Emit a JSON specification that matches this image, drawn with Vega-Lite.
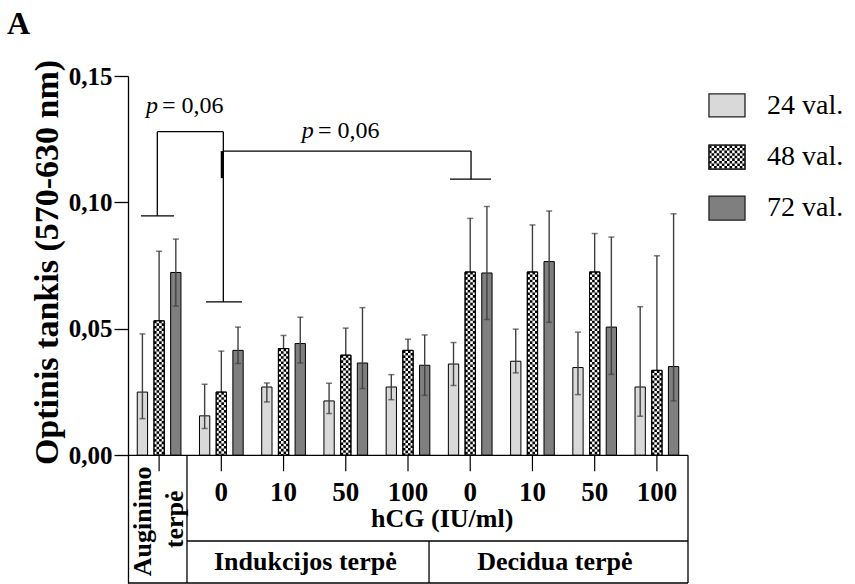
{
  "$schema": "https://vega.github.io/schema/vega-lite/v6.json",
  "width": 560,
  "height": 507,
  "autosize": "none",
  "padding": {"left": 128, "top": 76, "right": 167, "bottom": 1},
  "background": "white",
  "config": {"view": {"stroke": null}, "font": "Liberation Serif"},
  "resolve": {"scale": {"x": "independent"}},
  "datasets": {
    "bars": [
      {"grp": "Auginimo terpė", "series": "24 val.", "mean": 0.025, "lo": 0.0145, "hi": 0.048},
      {"grp": "Auginimo terpė", "series": "48 val.", "mean": 0.0532, "lo": 0.0257, "hi": 0.0807},
      {"grp": "Auginimo terpė", "series": "72 val.", "mean": 0.0723, "lo": 0.059, "hi": 0.0855},
      {"grp": "Indukcijos 0", "series": "24 val.", "mean": 0.0156, "lo": 0.0106, "hi": 0.0281},
      {"grp": "Indukcijos 0", "series": "48 val.", "mean": 0.025, "lo": 0.009, "hi": 0.0412},
      {"grp": "Indukcijos 0", "series": "72 val.", "mean": 0.0415, "lo": 0.0363, "hi": 0.0507},
      {"grp": "Indukcijos 10", "series": "24 val.", "mean": 0.027, "lo": 0.0211, "hi": 0.0286},
      {"grp": "Indukcijos 10", "series": "48 val.", "mean": 0.0422, "lo": 0.037, "hi": 0.0474},
      {"grp": "Indukcijos 10", "series": "72 val.", "mean": 0.0442, "lo": 0.0365, "hi": 0.0546},
      {"grp": "Indukcijos 50", "series": "24 val.", "mean": 0.0215, "lo": 0.0165, "hi": 0.0285},
      {"grp": "Indukcijos 50", "series": "48 val.", "mean": 0.0396, "lo": 0.029, "hi": 0.0503},
      {"grp": "Indukcijos 50", "series": "72 val.", "mean": 0.0365, "lo": 0.0264, "hi": 0.0584},
      {"grp": "Indukcijos 100", "series": "24 val.", "mean": 0.027, "lo": 0.022, "hi": 0.0319},
      {"grp": "Indukcijos 100", "series": "48 val.", "mean": 0.0415, "lo": 0.037, "hi": 0.0459},
      {"grp": "Indukcijos 100", "series": "72 val.", "mean": 0.0356, "lo": 0.0237, "hi": 0.0476},
      {"grp": "Decidua 0", "series": "24 val.", "mean": 0.0361, "lo": 0.0276, "hi": 0.0446},
      {"grp": "Decidua 0", "series": "48 val.", "mean": 0.0725, "lo": 0.0513, "hi": 0.0937},
      {"grp": "Decidua 0", "series": "72 val.", "mean": 0.0721, "lo": 0.0537, "hi": 0.0984},
      {"grp": "Decidua 10", "series": "24 val.", "mean": 0.0372, "lo": 0.0326, "hi": 0.0499},
      {"grp": "Decidua 10", "series": "48 val.", "mean": 0.0725, "lo": 0.0539, "hi": 0.0911},
      {"grp": "Decidua 10", "series": "72 val.", "mean": 0.0766, "lo": 0.0526, "hi": 0.0966},
      {"grp": "Decidua 50", "series": "24 val.", "mean": 0.0347, "lo": 0.024, "hi": 0.0487},
      {"grp": "Decidua 50", "series": "48 val.", "mean": 0.0725, "lo": 0.0573, "hi": 0.0877},
      {"grp": "Decidua 50", "series": "72 val.", "mean": 0.0507, "lo": 0.032, "hi": 0.0863},
      {"grp": "Decidua 100", "series": "24 val.", "mean": 0.027, "lo": 0.0154, "hi": 0.0587},
      {"grp": "Decidua 100", "series": "48 val.", "mean": 0.0336, "lo": 0.0, "hi": 0.0789},
      {"grp": "Decidua 100", "series": "72 val.", "mean": 0.0351, "lo": 0.0215, "hi": 0.0955}
    ],
    "lines": [
      {"x": -0.5, "x2": 8.5, "y": 0, "y2": 0},
      {"x": 0.448, "x2": 0.448, "y": 0, "y2": -0.0505},
      {"x": 0.448, "x2": 8.5, "y": -0.0339, "y2": -0.0339},
      {"x": 4.338, "x2": 4.338, "y": -0.0339, "y2": -0.0505},
      {"x": 8.5, "x2": 8.5, "y": 0, "y2": -0.0505},
      {"x": -0.5, "x2": 8.5, "y": -0.0505, "y2": -0.0505},
      {"x": -0.029, "x2": -0.029, "y": 0.128, "y2": 0.0947},
      {"x": -0.029, "x2": 1.032, "y": 0.128, "y2": 0.128},
      {"x": 1.032, "x2": 1.032, "y": 0.128, "y2": 0.0607},
      {"x": -0.291, "x2": 0.239, "y": 0.0947, "y2": 0.0947},
      {"x": 0.754, "x2": 1.332, "y": 0.0607, "y2": 0.0607},
      {"x": 1.032, "x2": 5.013, "y": 0.1203, "y2": 0.1203},
      {"x": 5.013, "x2": 5.013, "y": 0.1203, "y2": 0.1092},
      {"x": 4.675, "x2": 5.334, "y": 0.1092, "y2": 0.1092}
    ],
    "thick": [
      {"x": 1.011, "x2": 1.011, "y": 0.1203, "y2": 0.1096}
    ],
    "labels": [
      {"kind": "dose", "x": 1, "y": -0.0149, "text": "0"},
      {"kind": "dose", "x": 2, "y": -0.0149, "text": "10"},
      {"kind": "dose", "x": 3, "y": -0.0149, "text": "50"},
      {"kind": "dose", "x": 4, "y": -0.0149, "text": "100"},
      {"kind": "dose", "x": 5, "y": -0.0149, "text": "0"},
      {"kind": "dose", "x": 6, "y": -0.0149, "text": "10"},
      {"kind": "dose", "x": 7, "y": -0.0149, "text": "50"},
      {"kind": "dose", "x": 8, "y": -0.0149, "text": "100"},
      {"kind": "hcg", "x": 4.55, "y": -0.0253, "text": "hCG (IU/ml)"},
      {"kind": "medium", "x": 2.35, "y": -0.0422, "text": "Indukcijos terpė"},
      {"kind": "medium", "x": 6.36, "y": -0.0422, "text": "Decidua terpė"},
      {"kind": "aug", "x": -0.259, "y": -0.0261, "text": "Auginimo"},
      {"kind": "aug", "x": 0.255, "y": -0.0253, "text": "terpė"},
      {"kind": "p", "x": -0.211, "y": 0.1354, "text": "p"},
      {"kind": "p", "x": 2.292, "y": 0.1253, "text": "p"},
      {"kind": "peq", "x": 0.046, "y": 0.1354, "text": "= 0,06"},
      {"kind": "peq", "x": 2.554, "y": 0.1253, "text": "= 0,06"},
      {"kind": "legend", "x": 9.77, "y": 0.1383, "text": "24 val."},
      {"kind": "legend", "x": 9.77, "y": 0.1179, "text": "48 val."},
      {"kind": "legend", "x": 9.77, "y": 0.0978, "text": "72 val."},
      {"kind": "panel", "x": -2.445, "y": 0.1666, "text": "A"}
    ],
    "legend": [
      {"series": "24 val.", "x": 8.837, "x2": 9.416, "y": 0.1429, "y2": 0.1338},
      {"series": "48 val.", "x": 8.837, "x2": 9.416, "y": 0.1227, "y2": 0.1132},
      {"series": "72 val.", "x": 8.837, "x2": 9.416, "y": 0.1025, "y2": 0.093}
    ]
  },
  "layer": [
    {
      "data": {"name": "bars"},
      "transform": [{"filter": "datum.series === '48 val.'"}],
      "mark": {"type": "rule", "strokeWidth": 1.4, "color": "#404040"},
      "encoding": {
        "x": {"field": "grp", "type": "nominal", "sort": null, "scale": {"domain": ["Auginimo terpė", "Indukcijos 0", "Indukcijos 10", "Indukcijos 50", "Indukcijos 100", "Decidua 0", "Decidua 10", "Decidua 50", "Decidua 100"], "paddingInner": 0, "paddingOuter": 0}, "axis": null},
        "y": {
          "field": "lo", "type": "quantitative",
          "scale": {"domain": [-0.0505, 0.15], "nice": false, "zero": false},
          "axis": {
            "values": [0, 0.05, 0.1, 0.15],
            "labelExpr": "replace(format(datum.value, '.2f'), '.', ',')",
            "grid": false,
            "tickSize": 14,
            "tickWidth": 1.3,
            "tickColor": "black",
            "domainColor": "black",
            "domainWidth": 1.3,
            "labelFont": "Liberation Serif",
            "labelFontWeight": "bold",
            "labelFontSize": 25,
            "labelColor": "black",
            "labelPadding": 2,
            "title": "Optinis tankis (570-630 nm)",
            "titleFont": "Liberation Serif",
            "titleFontWeight": "bold",
            "titleFontSize": 34,
            "titleColor": "black",
            "titleY": 186,
            "titlePadding": 4
          }
        },
        "y2": {"field": "hi"}
      }
    },
    {
      "data": {"name": "bars"},
      "mark": {"type": "bar", "stroke": "black", "strokeWidth": 1},
      "encoding": {
        "x": {"field": "grp", "type": "nominal", "sort": null, "scale": {"domain": ["Auginimo terpė", "Indukcijos 0", "Indukcijos 10", "Indukcijos 50", "Indukcijos 100", "Decidua 0", "Decidua 10", "Decidua 50", "Decidua 100"], "paddingInner": 0, "paddingOuter": 0}, "axis": null},
        "xOffset": {"field": "series", "type": "nominal", "scale": {"domain": ["24 val.", "48 val.", "72 val."], "paddingInner": 0.383, "paddingOuter": 0.5545}},
        "y": {"field": "mean", "type": "quantitative", "stack": null},
        "y2": {"datum": 0},
        "fill": {"field": "series", "type": "nominal", "scale": {"domain": ["24 val.", "48 val.", "72 val."], "range": ["#d9d9d9", "#ffffff", "#7f7f7f"]}, "legend": null}
      }
    },
    {
      "data": {"name": "bars"},
      "transform": [{"filter": "datum.series !== '48 val.'"}],
      "mark": {"type": "rule", "strokeWidth": 1.4, "color": "#404040"},
      "encoding": {
        "x": {"field": "grp", "type": "nominal", "sort": null, "scale": {"domain": ["Auginimo terpė", "Indukcijos 0", "Indukcijos 10", "Indukcijos 50", "Indukcijos 100", "Decidua 0", "Decidua 10", "Decidua 50", "Decidua 100"], "paddingInner": 0, "paddingOuter": 0}, "axis": null},
        "xOffset": {"field": "series", "type": "nominal", "scale": {"domain": ["24 val.", "48 val.", "72 val."], "paddingInner": 0.383, "paddingOuter": 0.5545}},
        "y": {"field": "lo", "type": "quantitative"},
        "y2": {"field": "hi"}
      }
    },
    {
      "data": {"name": "bars"},
      "mark": {"type": "tick", "orient": "horizontal", "size": 6, "thickness": 1.5, "color": "#404040"},
      "encoding": {
        "x": {"field": "grp", "type": "nominal", "sort": null, "scale": {"domain": ["Auginimo terpė", "Indukcijos 0", "Indukcijos 10", "Indukcijos 50", "Indukcijos 100", "Decidua 0", "Decidua 10", "Decidua 50", "Decidua 100"], "paddingInner": 0, "paddingOuter": 0}, "axis": null},
        "xOffset": {"field": "series", "type": "nominal", "scale": {"domain": ["24 val.", "48 val.", "72 val."], "paddingInner": 0.383, "paddingOuter": 0.5545}},
        "y": {"field": "hi", "type": "quantitative"}
      }
    },
    {
      "data": {"name": "bars"},
      "transform": [{"filter": "datum.series !== '48 val.'"}],
      "mark": {"type": "tick", "orient": "horizontal", "size": 6, "thickness": 1.5, "color": "#404040"},
      "encoding": {
        "x": {"field": "grp", "type": "nominal", "sort": null, "scale": {"domain": ["Auginimo terpė", "Indukcijos 0", "Indukcijos 10", "Indukcijos 50", "Indukcijos 100", "Decidua 0", "Decidua 10", "Decidua 50", "Decidua 100"], "paddingInner": 0, "paddingOuter": 0}, "axis": null},
        "xOffset": {"field": "series", "type": "nominal", "scale": {"domain": ["24 val.", "48 val.", "72 val."], "paddingInner": 0.383, "paddingOuter": 0.5545}},
        "y": {"field": "lo", "type": "quantitative"}
      }
    },
    {
      "data": {"name": "bars"},
      "transform": [{"filter": "datum.series === '48 val.'"}],
      "mark": {"type": "rule", "color": "black", "strokeWidth": 2.57, "strokeDash": [2.57, 2.57], "strokeDashOffset": 0, "strokeCap": "butt", "xOffset": -3.85},
      "encoding": {
        "x": {"field": "grp", "type": "nominal", "sort": null, "scale": {"domain": ["Auginimo terpė", "Indukcijos 0", "Indukcijos 10", "Indukcijos 50", "Indukcijos 100", "Decidua 0", "Decidua 10", "Decidua 50", "Decidua 100"], "paddingInner": 0, "paddingOuter": 0}, "axis": null},
        "y": {"field": "mean", "type": "quantitative"},
        "y2": {"datum": 0}
      }
    },
    {
      "data": {"name": "bars"},
      "transform": [{"filter": "datum.series === '48 val.'"}],
      "mark": {"type": "rule", "color": "black", "strokeWidth": 2.57, "strokeDash": [2.57, 2.57], "strokeDashOffset": 2.57, "strokeCap": "butt", "xOffset": -1.28},
      "encoding": {
        "x": {"field": "grp", "type": "nominal", "sort": null, "scale": {"domain": ["Auginimo terpė", "Indukcijos 0", "Indukcijos 10", "Indukcijos 50", "Indukcijos 100", "Decidua 0", "Decidua 10", "Decidua 50", "Decidua 100"], "paddingInner": 0, "paddingOuter": 0}, "axis": null},
        "y": {"field": "mean", "type": "quantitative"},
        "y2": {"datum": 0}
      }
    },
    {
      "data": {"name": "bars"},
      "transform": [{"filter": "datum.series === '48 val.'"}],
      "mark": {"type": "rule", "color": "black", "strokeWidth": 2.57, "strokeDash": [2.57, 2.57], "strokeDashOffset": 0, "strokeCap": "butt", "xOffset": 1.28},
      "encoding": {
        "x": {"field": "grp", "type": "nominal", "sort": null, "scale": {"domain": ["Auginimo terpė", "Indukcijos 0", "Indukcijos 10", "Indukcijos 50", "Indukcijos 100", "Decidua 0", "Decidua 10", "Decidua 50", "Decidua 100"], "paddingInner": 0, "paddingOuter": 0}, "axis": null},
        "y": {"field": "mean", "type": "quantitative"},
        "y2": {"datum": 0}
      }
    },
    {
      "data": {"name": "bars"},
      "transform": [{"filter": "datum.series === '48 val.'"}],
      "mark": {"type": "rule", "color": "black", "strokeWidth": 2.57, "strokeDash": [2.57, 2.57], "strokeDashOffset": 2.57, "strokeCap": "butt", "xOffset": 3.85},
      "encoding": {
        "x": {"field": "grp", "type": "nominal", "sort": null, "scale": {"domain": ["Auginimo terpė", "Indukcijos 0", "Indukcijos 10", "Indukcijos 50", "Indukcijos 100", "Decidua 0", "Decidua 10", "Decidua 50", "Decidua 100"], "paddingInner": 0, "paddingOuter": 0}, "axis": null},
        "y": {"field": "mean", "type": "quantitative"},
        "y2": {"datum": 0}
      }
    },
    {
      "data": {"name": "bars"},
      "transform": [{"filter": "datum.series === '48 val.'"}],
      "mark": {"type": "bar", "fillOpacity": 0, "stroke": "black", "strokeWidth": 1},
      "encoding": {
        "x": {"field": "grp", "type": "nominal", "sort": null, "scale": {"domain": ["Auginimo terpė", "Indukcijos 0", "Indukcijos 10", "Indukcijos 50", "Indukcijos 100", "Decidua 0", "Decidua 10", "Decidua 50", "Decidua 100"], "paddingInner": 0, "paddingOuter": 0}, "axis": null},
        "xOffset": {"field": "series", "type": "nominal", "scale": {"domain": ["24 val.", "48 val.", "72 val."], "paddingInner": 0.383, "paddingOuter": 0.5545}},
        "y": {"field": "mean", "type": "quantitative", "stack": null},
        "y2": {"datum": 0}
      }
    },
    {
      "data": {"name": "bars"},
      "transform": [{"filter": "datum.series === '48 val.'"}],
      "mark": {"type": "rule", "color": "black", "strokeWidth": 1.2},
      "encoding": {
        "x": {"field": "grp", "type": "nominal", "sort": null, "scale": {"domain": ["Auginimo terpė", "Indukcijos 0", "Indukcijos 10", "Indukcijos 50", "Indukcijos 100", "Decidua 0", "Decidua 10", "Decidua 50", "Decidua 100"], "paddingInner": 0, "paddingOuter": 0}, "axis": null},
        "y": {"datum": 0, "type": "quantitative"},
        "y2": {"datum": -0.0063}
      }
    },
    {
      "data": {"name": "lines"},
      "mark": {"type": "rule", "color": "black", "strokeWidth": 1.3},
      "encoding": {
        "x": {"field": "x", "type": "quantitative", "scale": {"domain": [-0.5, 8.5], "nice": false, "zero": false}, "axis": null},
        "x2": {"field": "x2"},
        "y": {"field": "y", "type": "quantitative"},
        "y2": {"field": "y2"}
      }
    },
    {
      "data": {"name": "thick"},
      "mark": {"type": "rule", "color": "black", "strokeWidth": 2.6},
      "encoding": {
        "x": {"field": "x", "type": "quantitative", "scale": {"domain": [-0.5, 8.5], "nice": false, "zero": false}, "axis": null},
        "x2": {"field": "x2"},
        "y": {"field": "y", "type": "quantitative"},
        "y2": {"field": "y2"}
      }
    },
    {
      "data": {"name": "legend"},
      "mark": {"type": "rect", "stroke": "#222", "strokeWidth": 1.3},
      "encoding": {
        "x": {"field": "x", "type": "quantitative", "scale": {"domain": [-0.5, 8.5], "nice": false, "zero": false}, "axis": null},
        "x2": {"field": "x2"},
        "y": {"field": "y", "type": "quantitative"},
        "y2": {"field": "y2"},
        "fill": {"field": "series", "type": "nominal", "legend": null}
      }
    },
    {
      "data": {"name": "legend"},
      "transform": [{"filter": "datum.series === '48 val.'"}, {"calculate": "(datum.x + datum.x2) / 2", "as": "cx"}, {"calculate": "(datum.y + datum.y2) / 2", "as": "cy"}],
      "mark": {
        "type": "point", "filled": true, "fill": "black", "opacity": 1, "strokeWidth": 0, "size": 26.42,
        "shape": "M-7 -4.5h1v1h-1zM-5 -4.5h1v1h-1zM-3 -4.5h1v1h-1zM-1 -4.5h1v1h-1zM1 -4.5h1v1h-1zM3 -4.5h1v1h-1zM5 -4.5h1v1h-1zM-6 -3.5h1v1h-1zM-4 -3.5h1v1h-1zM-2 -3.5h1v1h-1zM0 -3.5h1v1h-1zM2 -3.5h1v1h-1zM4 -3.5h1v1h-1zM6 -3.5h1v1h-1zM-7 -2.5h1v1h-1zM-5 -2.5h1v1h-1zM-3 -2.5h1v1h-1zM-1 -2.5h1v1h-1zM1 -2.5h1v1h-1zM3 -2.5h1v1h-1zM5 -2.5h1v1h-1zM-6 -1.5h1v1h-1zM-4 -1.5h1v1h-1zM-2 -1.5h1v1h-1zM0 -1.5h1v1h-1zM2 -1.5h1v1h-1zM4 -1.5h1v1h-1zM6 -1.5h1v1h-1zM-7 -0.5h1v1h-1zM-5 -0.5h1v1h-1zM-3 -0.5h1v1h-1zM-1 -0.5h1v1h-1zM1 -0.5h1v1h-1zM3 -0.5h1v1h-1zM5 -0.5h1v1h-1zM-6 0.5h1v1h-1zM-4 0.5h1v1h-1zM-2 0.5h1v1h-1zM0 0.5h1v1h-1zM2 0.5h1v1h-1zM4 0.5h1v1h-1zM6 0.5h1v1h-1zM-7 1.5h1v1h-1zM-5 1.5h1v1h-1zM-3 1.5h1v1h-1zM-1 1.5h1v1h-1zM1 1.5h1v1h-1zM3 1.5h1v1h-1zM5 1.5h1v1h-1zM-6 2.5h1v1h-1zM-4 2.5h1v1h-1zM-2 2.5h1v1h-1zM0 2.5h1v1h-1zM2 2.5h1v1h-1zM4 2.5h1v1h-1zM6 2.5h1v1h-1zM-7 3.5h1v1h-1zM-5 3.5h1v1h-1zM-3 3.5h1v1h-1zM-1 3.5h1v1h-1zM1 3.5h1v1h-1zM3 3.5h1v1h-1zM5 3.5h1v1h-1z"
      },
      "encoding": {
        "x": {"field": "cx", "type": "quantitative", "scale": {"domain": [-0.5, 8.5], "nice": false, "zero": false}, "axis": null},
        "y": {"field": "cy", "type": "quantitative"}
      }
    },
    {
      "data": {"name": "legend"},
      "transform": [{"filter": "datum.series === '48 val.'"}],
      "mark": {"type": "rect", "fillOpacity": 0, "stroke": "#222", "strokeWidth": 1.3},
      "encoding": {
        "x": {"field": "x", "type": "quantitative", "scale": {"domain": [-0.5, 8.5], "nice": false, "zero": false}, "axis": null},
        "x2": {"field": "x2"},
        "y": {"field": "y", "type": "quantitative"},
        "y2": {"field": "y2"}
      }
    },
    {
      "data": {"name": "labels"},
      "transform": [{"filter": "datum.kind === 'dose'"}],
      "mark": {"type": "text", "font": "Liberation Serif", "fontWeight": "bold", "fontSize": 27, "align": "center", "baseline": "middle", "color": "black"},
      "encoding": {
        "x": {"field": "x", "type": "quantitative", "scale": {"domain": [-0.5, 8.5], "nice": false, "zero": false}, "axis": null},
        "y": {"field": "y", "type": "quantitative"},
        "text": {"field": "text"}
      }
    },
    {
      "data": {"name": "labels"},
      "transform": [{"filter": "datum.kind === 'hcg' || datum.kind === 'medium'"}],
      "mark": {"type": "text", "font": "Liberation Serif", "fontWeight": "bold", "fontSize": 26, "align": "center", "baseline": "middle", "color": "black"},
      "encoding": {
        "x": {"field": "x", "type": "quantitative", "scale": {"domain": [-0.5, 8.5], "nice": false, "zero": false}, "axis": null},
        "y": {"field": "y", "type": "quantitative"},
        "text": {"field": "text"}
      }
    },
    {
      "data": {"name": "labels"},
      "transform": [{"filter": "datum.kind === 'aug'"}],
      "mark": {"type": "text", "font": "Liberation Serif", "fontWeight": "bold", "fontSize": 26, "align": "center", "baseline": "middle", "angle": 270, "color": "black"},
      "encoding": {
        "x": {"field": "x", "type": "quantitative", "scale": {"domain": [-0.5, 8.5], "nice": false, "zero": false}, "axis": null},
        "y": {"field": "y", "type": "quantitative"},
        "text": {"field": "text"}
      }
    },
    {
      "data": {"name": "labels"},
      "transform": [{"filter": "datum.kind === 'p'"}],
      "mark": {"type": "text", "font": "Liberation Serif", "fontStyle": "italic", "fontSize": 24, "align": "left", "baseline": "alphabetic", "color": "black"},
      "encoding": {
        "x": {"field": "x", "type": "quantitative", "scale": {"domain": [-0.5, 8.5], "nice": false, "zero": false}, "axis": null},
        "y": {"field": "y", "type": "quantitative"},
        "text": {"field": "text"}
      }
    },
    {
      "data": {"name": "labels"},
      "transform": [{"filter": "datum.kind === 'peq'"}],
      "mark": {"type": "text", "font": "Liberation Serif", "fontSize": 24, "align": "left", "baseline": "alphabetic", "color": "black"},
      "encoding": {
        "x": {"field": "x", "type": "quantitative", "scale": {"domain": [-0.5, 8.5], "nice": false, "zero": false}, "axis": null},
        "y": {"field": "y", "type": "quantitative"},
        "text": {"field": "text"}
      }
    },
    {
      "data": {"name": "labels"},
      "transform": [{"filter": "datum.kind === 'legend'"}],
      "mark": {"type": "text", "font": "Liberation Serif", "fontSize": 28, "align": "left", "baseline": "middle", "color": "black"},
      "encoding": {
        "x": {"field": "x", "type": "quantitative", "scale": {"domain": [-0.5, 8.5], "nice": false, "zero": false}, "axis": null},
        "y": {"field": "y", "type": "quantitative"},
        "text": {"field": "text"}
      }
    },
    {
      "data": {"name": "labels"},
      "transform": [{"filter": "datum.kind === 'panel'"}],
      "mark": {"type": "text", "font": "Liberation Serif", "fontWeight": "bold", "fontSize": 32, "align": "left", "baseline": "alphabetic", "color": "black"},
      "encoding": {
        "x": {"field": "x", "type": "quantitative", "scale": {"domain": [-0.5, 8.5], "nice": false, "zero": false}, "axis": null},
        "y": {"field": "y", "type": "quantitative"},
        "text": {"field": "text"}
      }
    }
  ]
}
